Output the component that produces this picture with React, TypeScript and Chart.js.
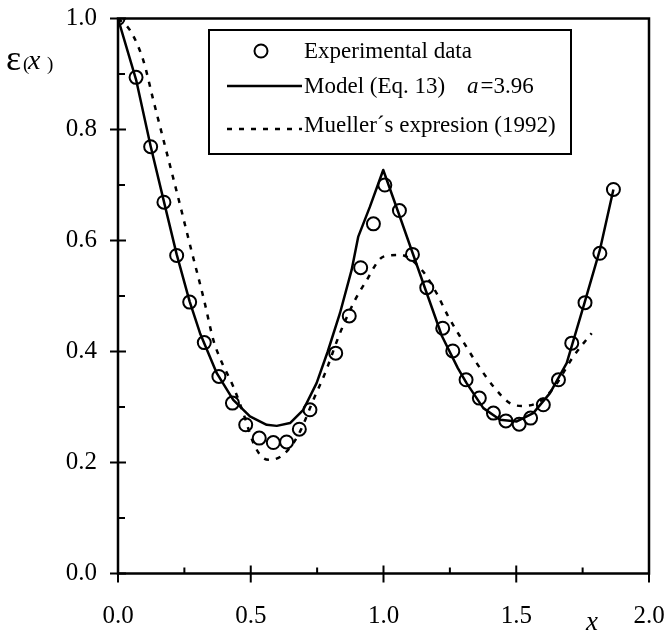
import React, { useEffect, useRef } from "react";
import { Chart, registerables } from "chart.js";

Chart.register(...registerables);

// Experimental data (open circles)
const expX = [0, 0.068, 0.123, 0.173, 0.221, 0.270, 0.325, 0.380, 0.431, 0.481, 0.532, 0.585, 0.635, 0.683, 0.723, 0.820, 0.871, 0.914, 0.962, 1.005, 1.060, 1.109, 1.163, 1.223, 1.261, 1.311, 1.361, 1.414, 1.461, 1.511, 1.554, 1.602, 1.659, 1.709, 1.759, 1.815, 1.866];
const expY = [1.0, 0.894, 0.769, 0.669, 0.573, 0.489, 0.416, 0.355, 0.307, 0.268, 0.244, 0.236, 0.237, 0.260, 0.295, 0.397, 0.464, 0.551, 0.630, 0.700, 0.654, 0.575, 0.515, 0.442, 0.401, 0.349, 0.316, 0.289, 0.275, 0.269, 0.280, 0.304, 0.349, 0.415, 0.488, 0.577, 0.692];

// Model (Eq. 13), a = 3.96 (solid)
const modelX = [0, 0.068, 0.123, 0.173, 0.221, 0.270, 0.309, 0.372, 0.434, 0.497, 0.560, 0.598, 0.648, 0.698, 0.748, 0.790, 0.836, 0.880, 0.905, 0.949, 0.999, 1.060, 1.110, 1.160, 1.220, 1.280, 1.313, 1.376, 1.439, 1.502, 1.564, 1.627, 1.690, 1.753, 1.815, 1.866];
const modelY = [1.0, 0.890, 0.770, 0.670, 0.575, 0.490, 0.433, 0.361, 0.313, 0.283, 0.268, 0.266, 0.271, 0.295, 0.343, 0.400, 0.469, 0.547, 0.607, 0.661, 0.727, 0.645, 0.577, 0.509, 0.428, 0.370, 0.343, 0.298, 0.277, 0.274, 0.289, 0.325, 0.379, 0.481, 0.583, 0.692];

// Mueller's expression (1992) (dotted)
const muelX = [0, 0.045, 0.095, 0.133, 0.181, 0.229, 0.276, 0.324, 0.359, 0.384, 0.434, 0.472, 0.510, 0.547, 0.572, 0.610, 0.650, 0.686, 0.736, 0.780, 0.836, 0.893, 0.930, 1.000, 1.062, 1.144, 1.200, 1.244, 1.300, 1.351, 1.414, 1.476, 1.520, 1.577, 1.640, 1.715, 1.784];
const muelY = [1.0, 0.979, 0.925, 0.853, 0.763, 0.673, 0.583, 0.493, 0.421, 0.388, 0.337, 0.289, 0.235, 0.208, 0.205, 0.210, 0.228, 0.256, 0.313, 0.361, 0.433, 0.493, 0.523, 0.571, 0.574, 0.547, 0.505, 0.463, 0.418, 0.379, 0.337, 0.307, 0.302, 0.307, 0.334, 0.391, 0.433];

const xTickValues = [0, 0.5, 1.0, 1.5, 2.0];
const xMinorTicks = [0.25, 0.75, 1.25, 1.75];
const yTickValues = [0, 0.2, 0.4, 0.6, 0.8, 1.0];
const yMinorTicks = [0.1, 0.3, 0.5, 0.7, 0.9];

const legendLabels = ["Experimental data", "Model (Eq. 13)", "Mueller\u00B4s expresion (1992)"];
const modelParamName = "a";
const modelParamValue = "=3.96";
const xAxisTitle = "x";

const FONT = '"Liberation Serif", "Times New Roman", Times, serif';

const toPts = (xs: number[], ys: number[]) => xs.map((x, i) => ({ x, y: ys[i] }));

const decorPlugin = {
  id: "decor",
  beforeDatasetsDraw(chart: any) {
    const { ctx, chartArea: a, scales } = chart;
    const xs = scales.x;
    const ys = scales.y;
    ctx.save();
    ctx.strokeStyle = "#000";
    ctx.lineWidth = 2.5;
    ctx.strokeRect(a.left, a.top, a.right - a.left, a.bottom - a.top);
    ctx.lineWidth = 2;
    ctx.beginPath();
    for (const v of yTickValues) {
      const py = ys.getPixelForValue(v);
      ctx.moveTo(a.left - 8, py);
      ctx.lineTo(a.left + 8, py);
    }
    for (const v of yMinorTicks) {
      const py = ys.getPixelForValue(v);
      ctx.moveTo(a.left, py);
      ctx.lineTo(a.left + 7, py);
    }
    for (const v of xTickValues) {
      const px = xs.getPixelForValue(v);
      ctx.moveTo(px, a.bottom + 9);
      ctx.lineTo(px, a.bottom - 8);
    }
    for (const v of xMinorTicks) {
      const px = xs.getPixelForValue(v);
      ctx.moveTo(px, a.bottom);
      ctx.lineTo(px, a.bottom - 6);
    }
    ctx.stroke();
    ctx.restore();
  },
  afterDraw(chart: any) {
    const { ctx } = chart;
    const ds = chart.data.datasets;
    ctx.save();
    ctx.fillStyle = "#000";
    ctx.strokeStyle = "#000";
    // Legend box
    const bx = 209, by = 30, bw = 362, bh = 124;
    ctx.lineWidth = 2;
    ctx.strokeRect(bx, by, bw, bh);
    const textX = 304;
    ctx.font = `23px ${FONT}`;
    ctx.textBaseline = "alphabetic";
    ctx.textAlign = "left";
    // row 1: circle
    ctx.lineWidth = ds[0].pointBorderWidth;
    ctx.beginPath();
    ctx.arc(261, 51, ds[0].pointRadius, 0, Math.PI * 2);
    ctx.stroke();
    ctx.fillText(legendLabels[0], textX, 58);
    // row 2: solid
    ctx.lineWidth = ds[1].borderWidth;
    ctx.setLineDash([]);
    ctx.beginPath();
    ctx.moveTo(227, 86);
    ctx.lineTo(302, 86);
    ctx.stroke();
    ctx.fillText(legendLabels[1], textX, 93);
    ctx.font = `italic 23px ${FONT}`;
    ctx.fillText(modelParamName, 467, 93);
    const aw = ctx.measureText(modelParamName).width;
    ctx.font = `23px ${FONT}`;
    ctx.fillText(modelParamValue, 467 + aw + 2, 93);
    // row 3: dashed
    ctx.lineWidth = ds[2].borderWidth;
    ctx.setLineDash(ds[2].borderDash);
    ctx.beginPath();
    ctx.moveTo(227, 129);
    ctx.lineTo(302, 129);
    ctx.stroke();
    ctx.setLineDash([]);
    ctx.fillText(legendLabels[2], textX, 132);

    // Y axis title: ε(x )
    ctx.font = `36px ${FONT}`;
    ctx.fillText("\u03B5", 6, 70);
    ctx.font = `19px ${FONT}`;
    ctx.fillText("(", 23, 70);
    ctx.font = `italic 28px ${FONT}`;
    ctx.fillText("x", 28, 69);
    ctx.font = `19px ${FONT}`;
    ctx.fillText(")", 47, 70);

    // X axis title
    ctx.font = `italic 27px ${FONT}`;
    ctx.fillText(xAxisTitle, 586, 630);
    ctx.restore();
  },
};

export default function App() {
  const ref = useRef<HTMLCanvasElement | null>(null);

  useEffect(() => {
    if (!ref.current) return;
    const chart = new Chart(ref.current, {
      type: "scatter",
      data: {
        datasets: [
          {
            label: legendLabels[0],
            data: toPts(expX, expY),
            showLine: false,
            pointStyle: "circle",
            pointRadius: 6.5,
            pointBorderWidth: 2,
            pointBackgroundColor: "rgba(0,0,0,0)",
            pointBorderColor: "#000",
            borderColor: "#000",
          },
          {
            label: legendLabels[1],
            data: toPts(modelX, modelY),
            showLine: true,
            pointRadius: 0,
            borderColor: "#000",
            borderWidth: 2.5,
            tension: 0,
            borderJoinStyle: "round",
          },
          {
            label: legendLabels[2],
            data: toPts(muelX, muelY),
            showLine: true,
            pointRadius: 0,
            borderColor: "#000",
            borderWidth: 2.5,
            borderDash: [5, 7],
            cubicInterpolationMode: "monotone",
          },
        ],
      } as any,
      options: {
        animation: false,
        responsive: false,
        devicePixelRatio: 1,
        layout: { padding: { top: 18.5, right: 20, left: 0, bottom: 0 } },
        plugins: { legend: { display: false }, tooltip: { enabled: false } },
        scales: {
          x: {
            type: "linear",
            min: 0,
            max: 2,
            grid: { display: false, drawTicks: false },
            border: { display: false },
            afterBuildTicks: (s: any) => {
              s.ticks = xTickValues.map((v) => ({ value: v }));
            },
            afterFit: (s: any) => {
              s.height = 57.5;
              s.paddingLeft = 0;
              s.paddingRight = 0;
              s.paddingTop = 0;
              s.paddingBottom = 0;
            },
            ticks: {
              padding: 28,
              color: "#000",
              font: { family: FONT, size: 25 },
              maxRotation: 0,
              autoSkip: false,
              callback: (v: any) => Number(v).toFixed(1),
            },
          },
          y: {
            type: "linear",
            min: 0,
            max: 1,
            grid: { display: false, drawTicks: false },
            border: { display: false },
            afterBuildTicks: (s: any) => {
              s.ticks = yTickValues.map((v) => ({ value: v }));
            },
            afterFit: (s: any) => {
              s.width = 118;
              s.paddingLeft = 0;
              s.paddingRight = 0;
              s.paddingTop = 0;
              s.paddingBottom = 0;
            },
            ticks: {
              padding: 21,
              color: "#000",
              font: { family: FONT, size: 25 },
              autoSkip: false,
              callback: (v: any) => Number(v).toFixed(1),
            },
          },
        },
      } as any,
      plugins: [decorPlugin],
    });
    return () => chart.destroy();
  }, []);

  return (
    <div style={{ position: "absolute", left: 0, top: 0, width: 669, height: 631, background: "#fff" }}>
      <canvas ref={ref} width={669} height={631} style={{ display: "block" }} />
    </div>
  );
}
